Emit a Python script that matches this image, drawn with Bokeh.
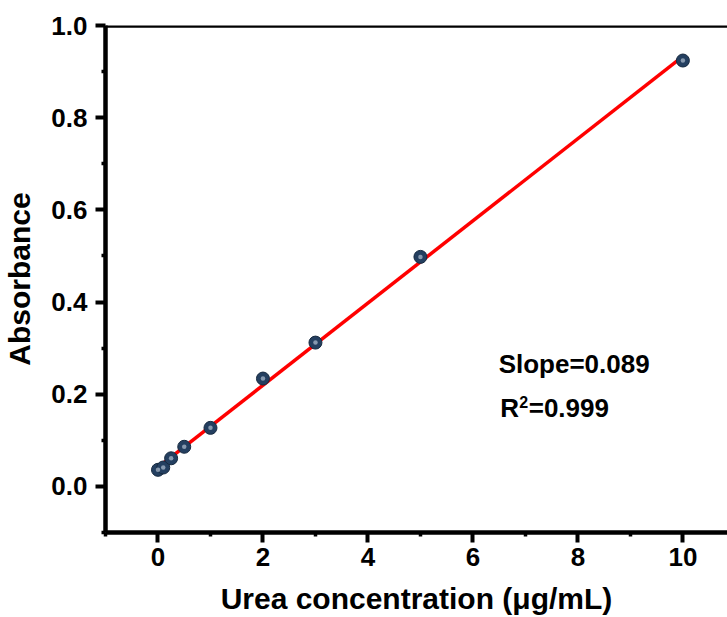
import numpy as np
from bokeh.plotting import figure
from bokeh.models import Range1d, FixedTicker, Label, Span, NumeralTickFormatter
from bokeh.embed import file_html
from bokeh.resources import INLINE

# Data
conc = [0, 0.1, 0.25, 0.5, 1, 2, 3, 5, 10]
absorbance = [0.036, 0.041, 0.061, 0.086, 0.127, 0.234, 0.312, 0.498, 0.924]

x_major = [0, 2, 4, 6, 8, 10]
x_minor = [-1, 1, 3, 5, 7, 9]
y_major = [0.0, 0.2, 0.4, 0.6, 0.8, 1.0]
y_minor = [-0.1, 0.1, 0.3, 0.5, 0.7, 0.9]

slope_text = "Slope=0.089"
r2_main = "R"
r2_sup = "2"
r2_value = "=0.999"

FONT = "Liberation Sans"

# linear fit
m, b = np.polyfit(conc, absorbance, 1)
fit_x = [min(conc), max(conc)]
fit_y = [m * v + b for v in fit_x]

p = figure(width=727, height=617, output_backend="svg", toolbar_location=None,
           x_range=Range1d(-1.0, 10.85), y_range=Range1d(-0.1, 1.0),
           min_border_left=104, min_border_right=0, min_border_top=25,
           min_border_bottom=85)
p.outline_line_color = None
p.grid.visible = False
p.background_fill_color = "white"
p.border_fill_color = "white"

for ax, maj, mnr in ((p.xaxis[0], x_major, x_minor), (p.yaxis[0], y_major, y_minor)):
    ax.ticker = FixedTicker(ticks=maj, minor_ticks=mnr)
    ax.axis_line_width = 4.5
    ax.axis_line_color = "black"
    ax.major_tick_line_width = 4
    ax.major_tick_line_color = "black"
    ax.major_tick_out = 10
    ax.major_tick_in = 0
    ax.minor_tick_line_width = 3.5
    ax.minor_tick_line_color = "black"
    ax.minor_tick_out = 4
    ax.minor_tick_in = 0
    ax.major_label_text_font = FONT
    ax.major_label_text_font_style = "bold"
    ax.major_label_text_font_size = "26px"
    ax.major_label_text_color = "black"
    ax.axis_label_text_font = FONT
    ax.axis_label_text_font_style = "bold"
    ax.axis_label_text_font_size = "30px"
    ax.axis_label_text_color = "black"

p.yaxis[0].formatter = NumeralTickFormatter(format="0.0")
p.xaxis[0].axis_label = "Urea concentration (\u03bcg/mL)"
p.yaxis[0].axis_label = "Absorbance"
p.xaxis[0].major_label_standoff = 5
p.yaxis[0].major_label_standoff = 8
p.xaxis[0].axis_label_standoff = 13
p.yaxis[0].axis_label_standoff = 12

# top frame line
p.add_layout(Span(location=1.0, dimension="width", line_color="black", line_width=4.5))

# fit line
p.line(fit_x, fit_y, line_color="#ff0000", line_width=3.5)

# markers (sphere-like)
p.scatter(conc, absorbance, marker="circle", size=13, fill_color="#243f60",
          line_color="#172a40", line_width=1)
p.scatter(conc, absorbance, marker="circle", size=4.5, fill_color="#c9d6e4",
          line_color=None, fill_alpha=0.6)

p.add_layout(Label(x=6.49, y=0.266, text=slope_text, text_font=FONT,
                   text_font_style="bold", text_font_size="26px",
                   text_color="black", text_baseline="alphabetic"))
p.add_layout(Label(x=6.52, y=0.170, text=r2_main, text_font=FONT,
                   text_font_style="bold", text_font_size="26px",
                   text_color="black", text_baseline="alphabetic"))
p.add_layout(Label(x=6.52, y=0.170, x_offset=19, y_offset=6.5, text=r2_sup,
                   text_font=FONT, text_font_style="bold", text_font_size="16px",
                   text_color="black", text_baseline="alphabetic"))
p.add_layout(Label(x=6.52, y=0.170, x_offset=28.5, text=r2_value, text_font=FONT,
                   text_font_style="bold", text_font_size="26px",
                   text_color="black", text_baseline="alphabetic"))

open("out.html", "w").write(file_html(p, INLINE))
